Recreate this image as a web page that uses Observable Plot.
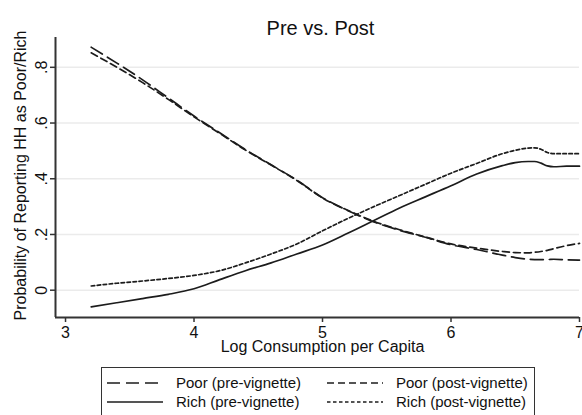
<!DOCTYPE html>
<html>
<head>
<meta charset="utf-8">
<script src="https://cdn.jsdelivr.net/npm/d3@7"></script>
<script src="https://cdn.jsdelivr.net/npm/@observablehq/plot@0.6"></script>
<style>
  html, body { margin: 0; padding: 0; background: #fff; }
  #wrap { position: relative; width: 582px; height: 415px; overflow: hidden; font-family: "Liberation Sans", Arial, sans-serif; color: #111; }
  #legend { position: absolute; left: 101px; top: 367px; width: 434px; height: 70px; border: 1.5px solid #333; box-sizing: border-box; }
  .item { position: absolute; display: flex; align-items: center; font-size: 15px; height: 19px; white-space: nowrap; }
  .item svg { margin-right: 13px; }
</style>
</head>
<body>
<div id="wrap"><div id="chart"></div><div id="legend"></div></div>
<script>
const titleText = "Pre vs. Post";
const xLabel = "Log Consumption per Capita";
const yLabel = "Probability of Reporting HH as Poor/Rich";
const xTicks = [3, 4, 5, 6, 7];
const yTicks = [0, 0.2, 0.4, 0.6, 0.8];
const seriesNames = ["Poor (pre-vignette)", "Poor (post-vignette)", "Rich (pre-vignette)", "Rich (post-vignette)"];

const xs        = [3.2,   3.4,   3.6,   3.8,   4.0,   4.2,   4.4,   4.6,   4.8,   5.0,   5.2,   5.4,   5.6,   5.8,   6.0,   6.2,   6.4,   6.5,   6.6,   6.65,  6.7,   6.75,  6.8,   6.9,   7.0];
const poorPre   = [0.872, 0.815, 0.755, 0.690, 0.625, 0.565, 0.505, 0.450, 0.395, 0.332, 0.285, 0.245, 0.215, 0.190, 0.163, 0.146, 0.126, 0.117, 0.111, 0.110, 0.110, 0.110, 0.111, 0.109, 0.108];
const poorPost  = [0.852, 0.800, 0.745, 0.685, 0.622, 0.563, 0.503, 0.449, 0.394, 0.331, 0.286, 0.247, 0.217, 0.191, 0.166, 0.151, 0.139, 0.135, 0.134, 0.136, 0.139, 0.143, 0.149, 0.160, 0.168];
const richPre   = [-0.060, -0.045, -0.030, -0.015, 0.005, 0.038, 0.070, 0.098, 0.130, 0.162, 0.205, 0.250, 0.295, 0.335, 0.375, 0.417, 0.447, 0.458, 0.462, 0.462, 0.456, 0.446, 0.443, 0.445, 0.445];
const richPost  = [0.015, 0.025, 0.033, 0.042, 0.053, 0.070, 0.098, 0.130, 0.166, 0.213, 0.258, 0.300, 0.340, 0.380, 0.420, 0.455, 0.490, 0.502, 0.510, 0.511, 0.506, 0.494, 0.490, 0.490, 0.490];

const seriesValues = [poorPre, poorPost, richPre, richPost];
const dashes = ["13,6", "7,4", null, "3.5,2.5"];
const ink = "#1c1c1c";

const xDomain = [2.922, 7.0];
const yDomain = [-0.098, 0.907];
const fmt = d => d === 0 ? "0" : d3.format(".1f")(d).replace(/^0/, "");

const lineMarks = seriesValues.map((vals, k) => {
  const rows = xs.map((x, i) => ({x, y: vals[i]}));
  const opts = {x: "x", y: "y", stroke: ink, strokeWidth: 1.7, curve: "monotone-x"};
  if (dashes[k]) opts.strokeDasharray = dashes[k];
  return Plot.line(rows, opts);
});

const chart = Plot.plot({
  width: 582,
  height: 362,
  marginLeft: 55,
  marginRight: 3,
  marginTop: 37,
  marginBottom: 45,
  style: {fontFamily: "'Liberation Sans', Arial, sans-serif", fontSize: "14px", color: "#111", background: "#fff", overflow: "visible"},
  x: {domain: xDomain, label: null},
  y: {domain: yDomain, label: null},
  marks: [
    Plot.ruleY(yTicks, {stroke: "#ebebeb", strokeWidth: 1.5}),
    ...lineMarks,
    Plot.ruleX([xDomain[0]], {stroke: "#333", strokeWidth: 2}),
    Plot.ruleY([yDomain[0]], {stroke: "#333", strokeWidth: 2}),
    Plot.axisX({ticks: xTicks, tickSize: 5, tickPadding: 4, tickFormat: d => String(d), label: null, stroke: "#333", strokeWidth: 1.5, fontSize: 16}),
    Plot.axisY({ticks: yTicks, tickSize: 5, tickFormat: () => "", label: null, stroke: "#333", strokeWidth: 1.5}),
    Plot.text(yTicks, {x: xDomain[0], y: d => d, text: fmt, rotate: -90, dx: -14, textAnchor: "middle", lineAnchor: "middle", fontSize: 16, fill: "#111"}),
    Plot.text([xLabel], {frameAnchor: "bottom", dx: 5, dy: 34, fontSize: 16, fill: "#111"}),
    Plot.text([yLabel], {frameAnchor: "left", rotate: -90, dx: -35, dy: -2, textAnchor: "middle", lineAnchor: "middle", fontSize: 16, fill: "#111"}),
    Plot.text([titleText], {frameAnchor: "top", dx: 3, dy: -17, fontSize: 20, fill: "#111"})
  ]
});
document.getElementById("chart").appendChild(chart);

// Legend (HTML, two columns x two rows)
const legend = document.getElementById("legend");
const legendPos = [[5, 5], [225, 5], [5, 24], [225, 24]];
const legendOrder = [0, 1, 2, 3];
legendOrder.forEach((k, j) => {
  const item = document.createElement("div");
  item.className = "item";
  item.style.left = legendPos[j][0] + "px";
  item.style.top = legendPos[j][1] + "px";
  const svgNS = "http://www.w3.org/2000/svg";
  const s = document.createElementNS(svgNS, "svg");
  s.setAttribute("width", 56); s.setAttribute("height", 10);
  const l = document.createElementNS(svgNS, "line");
  l.setAttribute("x1", 0); l.setAttribute("x2", 56); l.setAttribute("y1", 5); l.setAttribute("y2", 5);
  l.setAttribute("stroke", ink); l.setAttribute("stroke-width", 1.7);
  if (dashes[k]) l.setAttribute("stroke-dasharray", dashes[k]);
  s.appendChild(l);
  item.appendChild(s);
  const t = document.createElement("span");
  t.textContent = seriesNames[k];
  item.appendChild(t);
  legend.appendChild(item);
});
</script>
</body>
</html>
